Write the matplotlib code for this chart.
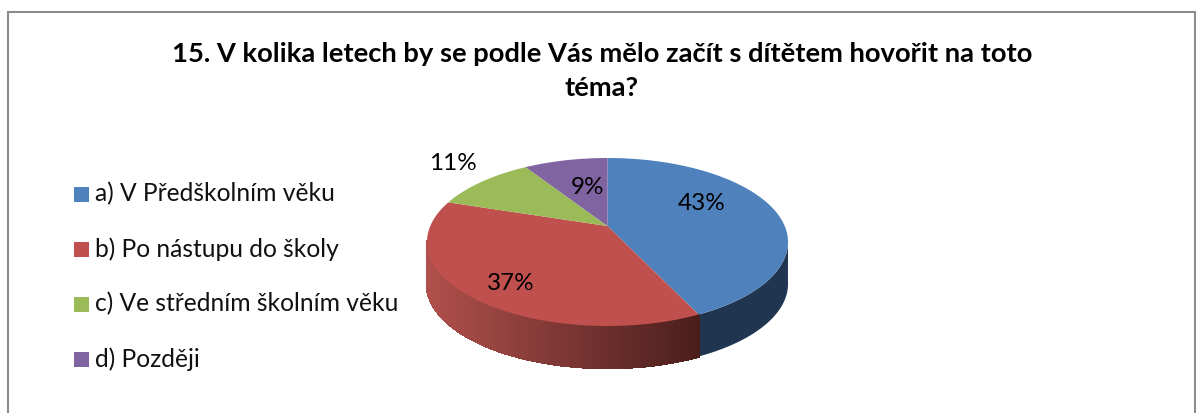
"""3D-look pie chart, drawn by hand since matplotlib has no perspective pie."""
import numpy as np
import matplotlib
matplotlib.use("Agg")
import matplotlib.pyplot as plt  # noqa: E402
from matplotlib.patches import Rectangle  # noqa: E402

W, H = 1196, 413
title = "15. V kolika letech by se podle Vás mělo začít s dítětem hovořit na toto\ntéma?"
categories = ["a) V Předškolním věku", "b) Po nástupu do školy",
              "c) Ve středním školním věku", "d) Později"]
values = [43, 37, 11, 9]
colors = ["#4f81bd", "#c0504d", "#9bbb59", "#8064a2"]

CX, CY, RX, RY, DEPTH = 607.5, 242, 180.5, 84, 42
K = 0.825  # perspective squeeze of the disc


def warp(a):
    # clockwise angle from the top, true pie -> as seen in perspective
    return 2 * np.arctan(K * np.tan(a / 2))


def rim(a, dy=0):
    t = warp(a)
    return CX + RX * np.sin(t), CY - RY * np.cos(t) + dy


APEX_Y = rim(np.pi / 2)[1]

plt.rcParams["font.family"] = ["Lato", "DejaVu Sans"]
fig = plt.figure(figsize=(W / 100, H / 100), dpi=100, facecolor="white")
ax = fig.add_axes([0, 0, 1, 1])
ax.set_xlim(0, W)
ax.set_ylim(H, 0)
ax.axis("off")

# chart frame, runs off the bottom of the crop
ax.plot([8, 8, 1194.5, 1194.5], [413, 12, 12, 413], color="#8c8c8c", lw=1.5,
        solid_joinstyle="miter")

ax.text(602, 54.5, title.split("\n")[0], ha="center", va="center", fontsize=19.7,
        fontweight="bold", color="black")
ax.text(602, 88, title.split("\n")[1], ha="center", va="center", fontsize=19.7,
        fontweight="bold", color="black")

edges = np.cumsum([0] + values) / sum(values) * 2 * np.pi
edges = edges - 1e-6

# side wall: blue part is flat, red part fades towards the left
a0 = np.linspace(edges[0], edges[1], 150)
x, y = rim(a0)
vis = y > CY - 2
ax.fill(np.r_[x[vis], x[vis][::-1]], np.r_[y[vis], (y + DEPTH)[vis][::-1]], color="#1f3550", lw=0)

a1 = np.linspace(edges[1], edges[2], 200)
x, y = rim(a1)
dark = np.array([74, 30, 28]) / 255
light = np.array([176, 80, 76]) / 255
for i in range(len(a1) - 1):
    if y[i] < CY - 1 and x[i] < CX:
        continue
    f = (x[i] - x.min()) / (x.max() - x.min())
    c = light + (dark - light) * f
    ax.fill([x[i], x[i + 1], x[i + 1], x[i]], [y[i], y[i + 1], y[i + 1] + DEPTH, y[i] + DEPTH],
            color=c, lw=1.2, ec=c, antialiased=False)

# top face
for v0, v1, c in zip(edges[:-1], edges[1:], colors):
    a = np.linspace(v0, v1, 200)
    x, y = rim(a)
    ax.fill(np.r_[CX, x], np.r_[APEX_Y, y], color=c, lw=0)

# percent labels
label_pos = [(702, 204), (511, 283), (453, 164), (587, 187)]
for v, (lx, ly) in zip(values, label_pos):
    ax.text(lx, ly, f"{v}%", ha="center", va="center", fontsize=17.5, color="black")

# legend
for i, (name, c) in enumerate(zip(categories, colors)):
    ly = 194 + i * 55
    ax.add_patch(Rectangle((74, ly - 7.5), 15, 15, color=c, lw=0))
    ax.text(95, ly, name, ha="left", va="center", fontsize=17.7, color="#111111")

fig.savefig("out.png", dpi=100)
